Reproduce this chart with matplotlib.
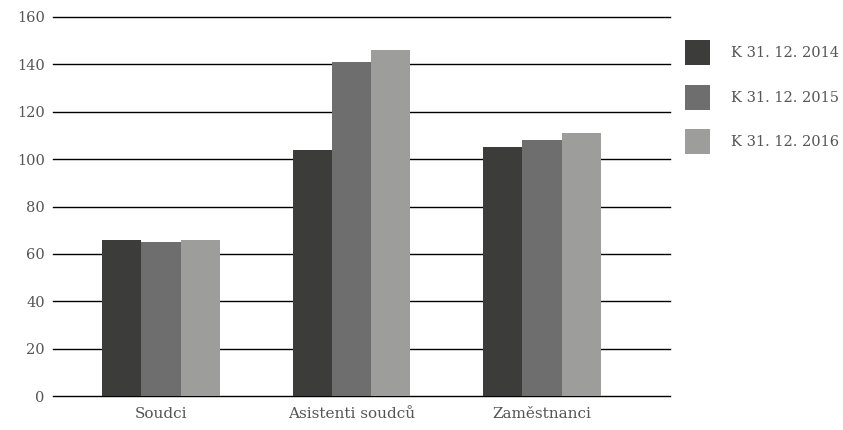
import numpy as np
import matplotlib.pyplot as plt

categories = ["Soudci", "Asistenti soudců", "Zaměstnanci"]
series_labels = ["K 31. 12. 2014", "K 31. 12. 2015", "K 31. 12. 2016"]
values_2014 = [66, 104, 105]
values_2015 = [65, 141, 108]
values_2016 = [66, 146, 111]

colors = ["#3c3c3a", "#6e6e6e", "#9d9d9c"]
text_color = "#555555"

plt.rcParams["font.family"] = ["DejaVu Serif", "Liberation Serif"]

fig = plt.figure(figsize=(8.43, 4.30), dpi=100)
ax = fig.add_axes([53 / 843, 34 / 430, 617 / 843, 379 / 430])

x = np.arange(len(categories))
width = 0.205
bars = []
for k, vals in enumerate([values_2014, values_2015, values_2016]):
    b = ax.bar(x + (k - 1) * width, vals, width, color=colors[k],
               label=series_labels[k], zorder=3)
    bars.append(b)

ax.set_xlim(-0.567, 2.672)
ax.set_ylim(0, 160)
ax.set_yticks(np.arange(0, 161, 20))
ax.set_xticks(x)
ax.set_xticklabels(categories)
ax.grid(axis="y", color="black", linewidth=1.0, zorder=0)
for gl in ax.get_ygridlines():
    gl.set_clip_on(False)
for s in ax.spines.values():
    s.set_visible(False)
ax.tick_params(axis="both", length=0, labelsize=10.5, colors=text_color)
ax.tick_params(axis="x", labelsize=11, pad=8)
ax.tick_params(axis="y", pad=6)

fig.legend(handles=bars, loc="upper left", bbox_to_anchor=(685 / 843, 1 - 40 / 430),
           frameon=False, fontsize=10.5, labelcolor=text_color,
           borderpad=0, borderaxespad=0,
           handlelength=1.71, handleheight=2.26, handletextpad=1.45,
           labelspacing=1.34)

fig.savefig("out.png", dpi=100)
